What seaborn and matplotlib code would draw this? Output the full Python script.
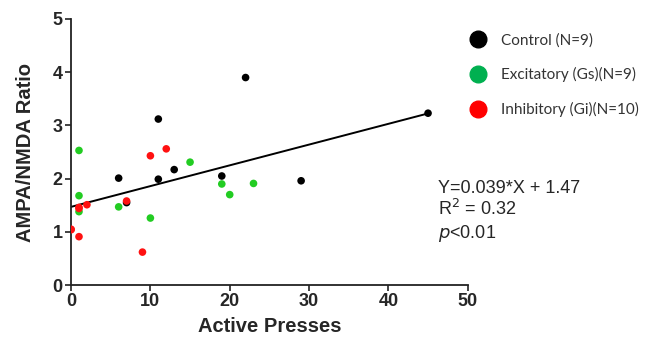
import pandas as pd
import matplotlib.pyplot as plt
import seaborn as sns
from matplotlib.lines import Line2D

# data
control_x = [6, 7, 11, 11, 13, 19, 22, 29, 45]
control_y = [2.01, 1.55, 3.12, 1.99, 2.17, 2.05, 3.90, 1.96, 3.23]
excit_x = [1, 1, 1, 6, 10, 15, 19, 20, 23]
excit_y = [2.53, 1.68, 1.38, 1.47, 1.26, 2.31, 1.90, 1.70, 1.91]
inhib_x = [0, 0, 1, 1, 1, 2, 7, 9, 10, 12]
inhib_y = [1.05, 1.04, 1.46, 1.44, 0.91, 1.51, 1.58, 0.62, 2.43, 2.56]

group_names = ['Control', 'Excitatory', 'Inhibitory']
legend_labels = ['Control (N=9)', 'Excitatory (Gs)(N=9)', 'Inhibitory (Gi)(N=10)']
# fit line: Y = slope*X + intercept
slope = 0.039
intercept = 1.47
fit_x = [0, 45]

df = pd.concat([
    pd.DataFrame({'x': control_x, 'y': control_y, 'grp': 'Control'}),
    pd.DataFrame({'x': excit_x, 'y': excit_y, 'grp': 'Excitatory'}),
    pd.DataFrame({'x': inhib_x, 'y': inhib_y, 'grp': 'Inhibitory'}),
])
fit_df = pd.DataFrame({'x': fit_x, 'y': [slope * v + intercept for v in fit_x]})

sns.set_style('ticks')
plt.rcParams['font.family'] = ['Liberation Sans', 'DejaVu Sans']

fig = plt.figure(figsize=(6.46, 3.39), dpi=100)
ax = fig.add_axes([0.110, 0.159, 0.614, 0.785])

pal = {'Control': '#000000', 'Excitatory': '#22cc22', 'Inhibitory': '#ff1111'}
sns.lineplot(data=fit_df, x='x', y='y', color='black', lw=1.4, ax=ax)
sns.scatterplot(data=df, x='x', y='y', hue='grp', palette=pal, s=30,
                edgecolor='none', legend=False, ax=ax, zorder=3)

ax.set_xlim(0, 50)
ax.set_ylim(0, 5)
ax.set_xticks([0, 10, 20, 30, 40, 50])
ax.set_yticks([0, 1, 2, 3, 4, 5])
ax.set_xlabel('Active Presses', fontsize=14.5, fontweight='bold', labelpad=5)
ax.set_ylabel('AMPA/NMDA Ratio', fontsize=14.5, fontweight='bold', labelpad=13)
ax.tick_params(labelsize=13, width=1.2, length=4, pad=2, color='#222222')
for lab in ax.get_xticklabels() + ax.get_yticklabels():
    lab.set_fontweight('bold')
sns.despine(ax=ax)
for sp in ['left', 'bottom']:
    ax.spines[sp].set_linewidth(1.3)
    ax.spines[sp].set_color('#222222')

# legend
leg_cols = ['#000000', '#00b050', '#ff0000']
handles = [Line2D([], [], marker='o', ls='none', markersize=12, color=c) for c in leg_cols]
fig.legend(handles, legend_labels, loc='upper left', bbox_to_anchor=(0.695, 0.943),
           frameon=False, prop={'family': ['Lato', 'DejaVu Sans'], 'size': 11},
           labelcolor='#333333', handletextpad=0.5, labelspacing=1.3)

# equation text
fig.text(0.678, 0.432, 'Y=0.039*X + 1.47', fontsize=13)
fig.text(0.678, 0.366, 'R$^2$ = 0.32', fontsize=13)
fig.text(0.678, 0.299, '$\\it{p}$<0.01', fontsize=13)

fig.savefig('out.png', dpi=100)
